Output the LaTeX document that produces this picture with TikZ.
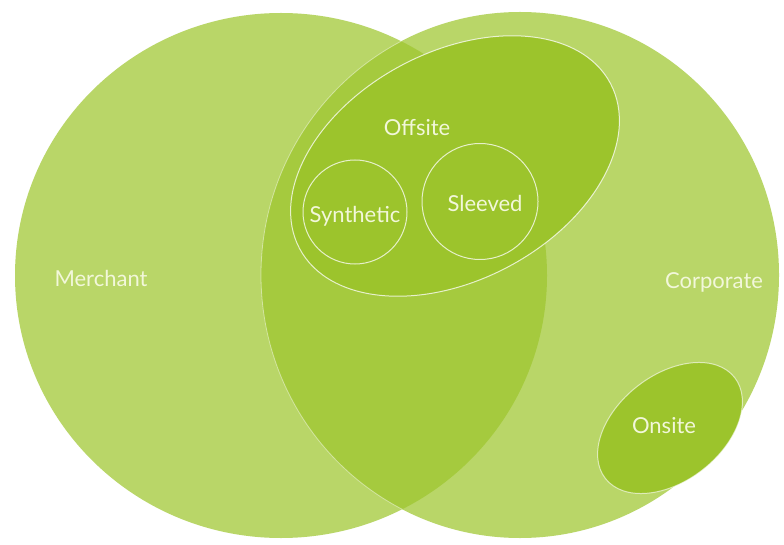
\documentclass[tikz,border=0pt]{standalone}
\usepackage{fontspec}
\setmainfont{Lato}
\definecolor{lightg}{RGB}{185,214,104}
\definecolor{overg}{RGB}{165,202,62}
\definecolor{deepg}{RGB}{156,196,44}
\definecolor{labelc}{RGB}{242,247,218}
\tikzset{
  lbl/.style={text=labelc, font=\fontsize{22}{24}\selectfont, inner sep=0pt},
  rim/.style={draw=white, draw opacity=0.75, line width=1pt},
}
\begin{document}
\begin{tikzpicture}[x=1pt,y=-1pt]
\useasboundingbox (0,0) rectangle (784,545);
\fill[white] (0,0) rectangle (784,545);
% big sets
\fill[lightg] (281,275.5) ellipse [x radius=266, y radius=262.5];
\fill[lightg] (520,275) ellipse [x radius=259, y radius=263];
\begin{scope}
  \clip (281,275.5) ellipse [x radius=266, y radius=262.5];
  \fill[overg] (520,275) ellipse [x radius=259, y radius=263];
  \draw[white, opacity=0.45, line width=0.8pt] (520,275) ellipse [x radius=259, y radius=263];
\end{scope}
% offsite
\begin{scope}[shift={(455,166)}, rotate=28]
  \fill[deepg] (0,0) ellipse [x radius=176pt, y radius=114pt];
  \draw[rim] (0,0) ellipse [x radius=176pt, y radius=114pt];
\end{scope}
\draw[rim] (355,212) circle [radius=52];
\draw[rim] (480,201.5) circle [radius=58];
% onsite
\begin{scope}[shift={(670,428)}, rotate=38]
  \fill[deepg] (0,0) ellipse [x radius=82pt, y radius=53pt];
  \draw[rim, draw opacity=0.6] (0,0) ellipse [x radius=82pt, y radius=53pt];
\end{scope}
% labels
\node[lbl, anchor=base] (merchant) at (101,287) {Merchant};
\node[lbl, anchor=base] (corporate) at (714,288) {Corporate};
\node[lbl, anchor=base] (offsite) at (417,136) {Offsite};
\node[lbl, anchor=base] (synthetic) at (355,223) {Synthetic};
\node[lbl, anchor=base] (sleeved) at (485,212) {Sleeved};
\node[lbl, anchor=base] (onsite) at (664,433) {Onsite};
\end{tikzpicture}
\end{document}
